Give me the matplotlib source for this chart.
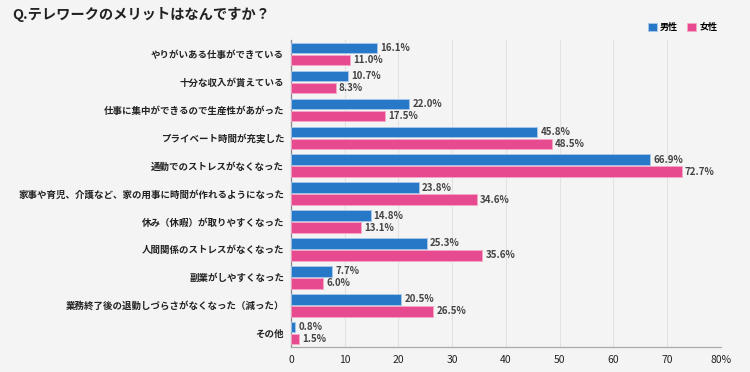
import matplotlib
matplotlib.use("Agg")
import matplotlib.pyplot as plt
import numpy as np

plt.rcParams['font.family'] = ['Noto Sans CJK JP', 'DejaVu Sans']

categories = [
    "やりがいある仕事ができている",
    "十分な収入が貰えている",
    "仕事に集中ができるので生産性があがった",
    "プライベート時間が充実した",
    "通勤でのストレスがなくなった",
    "家事や育児、介護など、家の用事に時間が作れるようになった",
    "休み（休暇）が取りやすくなった",
    "人間関係のストレスがなくなった",
    "副業がしやすくなった",
    "業務終了後の退勤しづらさがなくなった（減った）",
    "その他",
]
male = [16.1, 10.7, 22.0, 45.8, 66.9, 23.8, 14.8, 25.3, 7.7, 20.5, 0.8]
female = [11.0, 8.3, 17.5, 48.5, 72.7, 34.6, 13.1, 35.6, 6.0, 26.5, 1.5]
series_names = ["男性", "女性"]
xticks = [0, 10, 20, 30, 40, 50, 60, 70, 80]
xticklabels = ["0", "10", "20", "30", "40", "50", "60", "70", "80%"]
title = "Q.テレワークのメリットはなんですか？"

bg = "#f4f4f4"
c_male = "#2878c8"
c_female = "#e84a8f"

fig = plt.figure(figsize=(7.5, 3.72), dpi=100, facecolor=bg)
ax = fig.add_axes([0.388, 0.067, 0.573, 0.825], facecolor=bg)

y = np.arange(len(categories))
h = 0.38
off = 0.215
ax.barh(y - off, male, height=h, color=c_male, edgecolor="#a9c9ea", linewidth=0.6, label=series_names[0], zorder=3)
ax.barh(y + off, female, height=h, color=c_female, edgecolor="#f3a9c9", linewidth=0.6, label=series_names[1], zorder=3)

for yi, v in zip(y, male):
    ax.text(v + 0.6, yi - off, f"{v:.1f}%", va="center", ha="left", fontsize=7, fontweight="bold", color="#444444")
for yi, v in zip(y, female):
    ax.text(v + 0.6, yi + off, f"{v:.1f}%", va="center", ha="left", fontsize=7, fontweight="bold", color="#444444")

ax.set_xlim(0, 80)
ax.set_ylim(len(categories) - 0.5, -0.5)
ax.set_yticks(y)
ax.set_yticklabels(categories, fontsize=6.8, fontweight="bold", color="#222222")
ax.set_xticks(xticks)
ax.set_xticklabels(xticklabels, fontsize=7.5, color="#222222")
ax.tick_params(axis="y", length=0, pad=5)
ax.tick_params(axis="x", length=0, pad=6)
ax.grid(axis="x", color="#e2e2e2", linewidth=0.8, zorder=0)
for s in ["top", "right"]:
    ax.spines[s].set_visible(False)
ax.spines["left"].set_color("#888888")
ax.spines["bottom"].set_color("#aaaaaa")
ax.spines["left"].set_linewidth(0.9)
ax.spines["bottom"].set_linewidth(0.9)

fig.text(0.016, 0.962, title, fontsize=10.3, fontweight="bold", color="#222222", va="center", ha="left")

leg = fig.legend(loc="center right", bbox_to_anchor=(0.968, 0.925), ncol=2, frameon=False,
                 handlelength=1.0, handleheight=1.0, columnspacing=1.0, handletextpad=0.4,
                 prop={"weight": "bold", "size": 6.5})

fig.savefig("out.png", dpi=100, facecolor=bg)
